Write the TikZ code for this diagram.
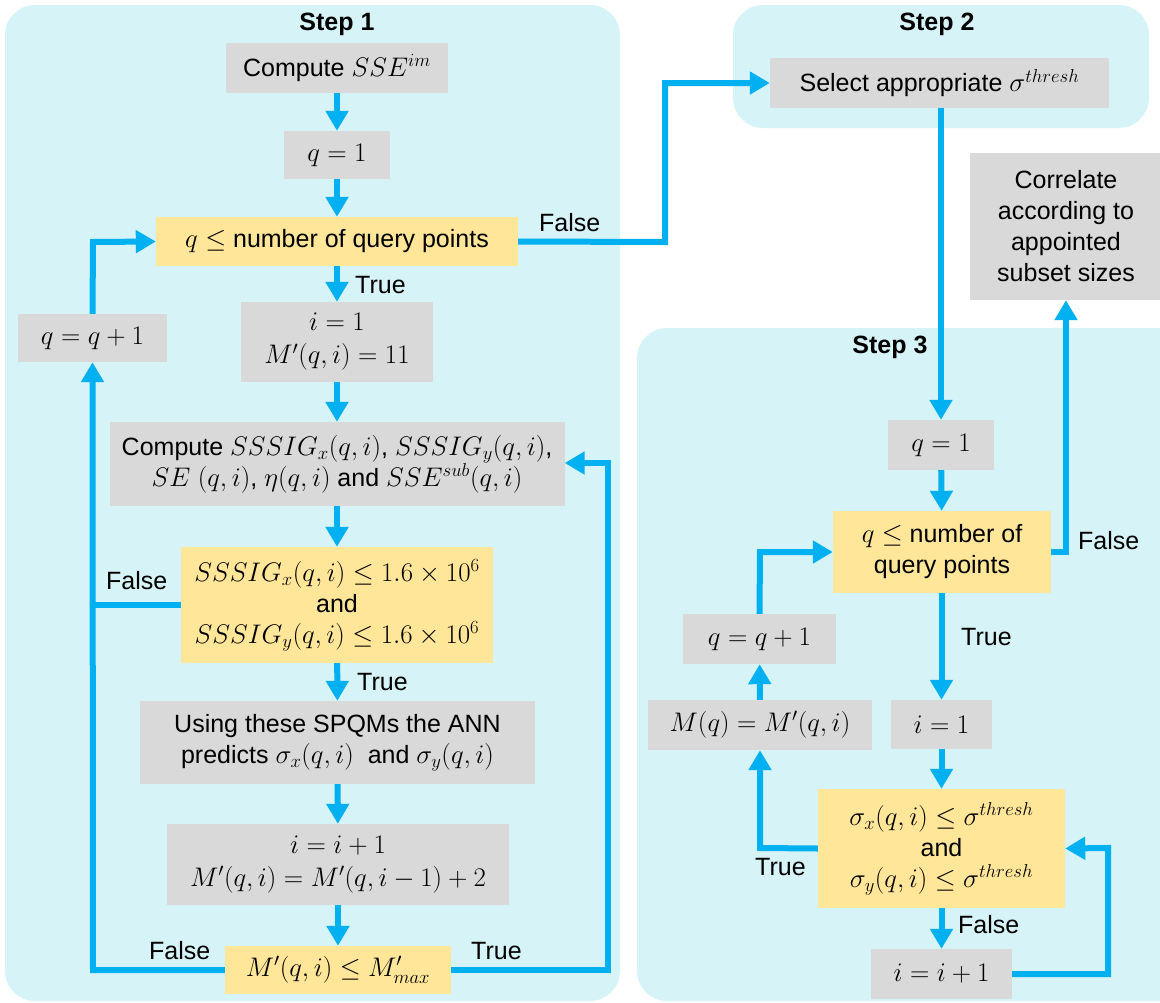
\documentclass[tikz,border=0pt]{standalone}
\usepackage{graphicx}
\usepackage{fontspec}
\setmainfont{Liberation Sans}
\usetikzlibrary{arrows.meta}
\definecolor{panelcyan}{RGB}{214,243,247}
\definecolor{boxgray}{RGB}{217,217,217}
\definecolor{boxyellow}{RGB}{255,230,153}
\definecolor{flowblue}{RGB}{0,176,240}
\newcommand{\bodyfont}{\fontsize{25}{31}\selectfont}
% formulas are set slightly larger than the surrounding text
\newcommand{\fm}[1]{\scalebox{1.08}{$#1$}}
\begin{document}
\begin{tikzpicture}[x=1pt,y=-1pt,
  gbox/.style={fill=boxgray, inner sep=0pt, align=center, font=\bodyfont},
  ybox/.style={fill=boxyellow, inner sep=0pt, align=center, font=\bodyfont},
  panel/.style={fill=panelcyan, rounded corners=30pt},
  title/.style={font=\bodyfont\bfseries},
  lbl/.style={font=\bodyfont, inner sep=0pt},
  flow/.style={draw=flowblue, line width=6pt, -{Triangle[width=22pt,length=20pt]}},
  link/.style={draw=flowblue, line width=6pt}]
\useasboundingbox (0,0) rectangle (1160,1002);
\clip (0,0) rectangle (1160,1002);

% background panels
\fill[panel] (5,5) rectangle (620,1001);
\fill[panel] (733,5) rectangle (1149,128);
\fill[panel] (637,328) rectangle (1200,1001);

% Step 1
\node[title] (t1) at (337,24) {Step 1};
\node[gbox, minimum width=222pt, minimum height=50pt] (sse) at (337,68) {Compute \fm{SSE^{im}}};
\node[gbox, minimum width=106pt, minimum height=48pt] (qa) at (337,155) {\fm{q=1}};
\node[ybox, minimum width=362pt, minimum height=49pt] (dq) at (337,241.5) {\fm{q\le} number of query points};
\node[gbox, minimum width=192pt, minimum height=80pt] (ia) at (337,342) {\fm{i=1}\\[2pt]\fm{M'(q,i)=11}};
\node[gbox, minimum width=149pt, minimum height=48pt] (qqa) at (92.5,338) {\fm{q=q+1}};
\node[gbox, minimum width=455pt, minimum height=84pt] (sig) at (337,464) {Compute \fm{SSSIG_x(q,i)}, \fm{SSSIG_y(q,i)},\\\fm{SE\ (q,i)}, \fm{\eta(q,i)} and \fm{SSE^{sub}(q,i)}};
\node[ybox, minimum width=312pt, minimum height=116pt] (dsig) at (337,605) {\fm{SSSIG_x(q,i)\le 1.6\times10^6}\\and\\\fm{SSSIG_y(q,i)\le 1.6\times10^6}};
\node[gbox, minimum width=395pt, minimum height=83pt] (ann) at (337.5,742.5) {Using these SPQMs the ANN\\predicts \fm{\sigma_x(q,i)}\ \ and \fm{\sigma_y(q,i)}};
\node[gbox, minimum width=342pt, minimum height=81pt] (inc) at (338,864.5) {\fm{i=i+1}\\[2pt]\fm{M'(q,i)=M'(q,i-1)+2}};
\node[ybox, minimum width=226pt, minimum height=48pt] (dm) at (338,970) {\fm{M'(q,i)\le M'_{max}}};

\coordinate (lb) at (93,970);
\coordinate (lm) at (93,605);
\coordinate (lt) at (93,242);
\coordinate (rb) at (608,970);
\coordinate (rt) at (608,463);
\coordinate (ft) at (665,83);
\coordinate (fb) at (665,242);

\draw[flow] (sse) -- (qa);
\draw[flow] (qa) -- (dq);
\draw[flow] (dq) -- (ia);
\draw[flow] (ia) -- (sig);
\draw[flow] (sig) -- (dsig);
\draw[flow] (dsig) -- (ann);
\draw[flow] (ann) -- (inc);
\draw[flow] (inc) -- (dm);
\draw[flow] (dm.west) -- (lb) -- (qqa.south);
\draw[link] (dsig.west) -- (lm);
\draw[flow] (qqa.north) -- (lt) -- (dq.west);
\draw[flow] (dm.east) -- (rb) -- (rt) -- (sig.east |- rt);

\node[lbl, anchor=west] (tr1) at (355,285) {True};
\node[lbl, anchor=west] (tr2) at (357,682) {True};
\node[lbl, anchor=west] (fa1) at (539,223) {False};
\node[lbl, anchor=west] (fa2) at (106,581) {False};
\node[lbl, anchor=west] (fa3) at (149,951) {False};
\node[lbl, anchor=west] (tr3) at (471,951) {True};

% Step 2
\node[title] (t2) at (937,24) {Step 2};
\node[gbox, minimum width=339pt, minimum height=50pt] (sel) at (939.5,83) {Select appropriate \fm{\sigma^{thresh}}};
\draw[flow] (dq.east) -- (fb) -- (ft) -- (sel.west);

\node[gbox, minimum width=192pt, minimum height=147pt] (cor) at (1066,226.5) {Correlate\\according to\\appointed\\subset sizes};

% Step 3
\node[title] (t3) at (890,347) {Step 3};
\node[gbox, minimum width=106pt, minimum height=50pt] (qb) at (941,445) {\fm{q=1}};
\node[ybox, minimum width=218pt, minimum height=82pt] (dqb) at (942,552) {\fm{q\le} number of\\query points};
\node[gbox, minimum width=101pt, minimum height=49pt] (ib) at (941.5,724.5) {\fm{i=1}};
\node[ybox, minimum width=247pt, minimum height=119pt] (dsb) at (941.5,848.5) {\fm{\sigma_x(q,i)\le\sigma^{thresh}}\\and\\\fm{\sigma_y(q,i)\le\sigma^{thresh}}};
\node[gbox, minimum width=141pt, minimum height=50pt] (incb) at (941.5,974) {\fm{i=i+1}};
\node[gbox, minimum width=224pt, minimum height=50pt] (mq) at (760,725) {\fm{M(q)=M'(q,i)}};
\node[gbox, minimum width=153pt, minimum height=50pt] (qqb) at (759.5,639) {\fm{q=q+1}};

\coordinate (cf) at (1066,552);
\coordinate (tl) at (760,552);
\coordinate (tt) at (760,848);
\coordinate (rl) at (1108,974);
\coordinate (rh) at (1108,848);

\draw[flow] (sel.south -| qb.north) -- (qb.north);
\draw[flow] (qb) -- (dqb);
\draw[flow] (dqb.south -| ib.north) -- (ib.north);
\draw[flow] (ib) -- (dsb);
\draw[flow] (dsb) -- (incb);
\draw[flow] (dqb.east) -- (cf) -- (cor.south);
\draw[flow] (dsb.west) -- (tt) -- (mq.south);
\draw[flow] (mq) -- (qqb);
\draw[flow] (qqb.north) -- (tl) -- (dqb.west);
\draw[flow] (incb.east) -- (rl) -- (rh) -- (dsb.east);

\node[lbl, anchor=west] (fb1) at (1078,541) {False};
\node[lbl, anchor=west] (tb1) at (961,637) {True};
\node[lbl, anchor=west] (tb2) at (755,867) {True};
\node[lbl, anchor=west] (fb2) at (958,925) {False};
\end{tikzpicture}
\end{document}
